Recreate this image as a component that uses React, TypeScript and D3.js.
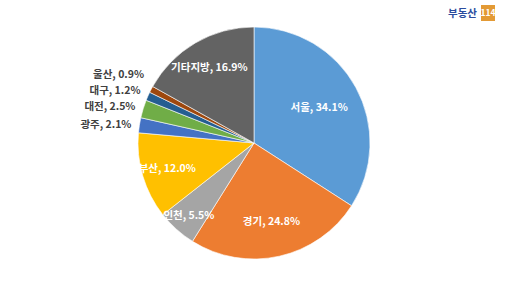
import React from "react";
import * as d3 from "d3";

const regions = ["서울", "경기", "인천", "부산", "광주", "대전", "대구", "울산", "기타지방"];
const shares = [34.1, 24.8, 5.5, 12.0, 2.1, 2.5, 1.2, 0.9, 16.9];
const colors = ["#5B9BD5", "#ED7D31", "#A5A5A5", "#FFC000", "#4472C4", "#70AD47", "#255E91", "#9E480E", "#636363"];
// label placement: inside fraction of radius, or 0 for outside
const labelInside = [0.64, 0.69, 0.84, 0.78, 0, 0, 0, 0, 0.76];

const W = 510, H = 288;
const cx = 254, cy = 143, R = 116;
const FONT = "'Malgun Gothic', 'Noto Sans CJK KR', sans-serif";

export default function App() {
  const pie = d3.pie<number>().sort(null).value((d) => d)(shares);
  const arc = d3.arc<d3.PieArcDatum<number>>().innerRadius(0).outerRadius(R);

  // outside labels, resolve overlaps going upward
  const outside: { i: number; x: number; y: number }[] = [];
  pie.forEach((p, i) => {
    if (labelInside[i] === 0) {
      const a = (p.startAngle + p.endAngle) / 2;
      const rr = R + 8;
      outside.push({ i, x: rr * Math.sin(a), y: -rr * Math.cos(a) });
    }
  });
  outside.sort((a, b) => b.y - a.y);
  for (let k = 1; k < outside.length; k++) {
    if (outside[k - 1].y - outside[k].y < 16) outside[k].y = outside[k - 1].y - 16;
  }

  return (
    <svg width={W} height={H} style={{ position: "absolute", left: 0, top: 0, background: "#fff" }}>
      <rect width={W} height={H} fill="#fff" />
      <g transform={`translate(${cx},${cy})`}>
        {pie.map((p, i) => (
          <path key={i} d={arc(p) || ""} fill={colors[i]} stroke="#fff" strokeWidth={0.6} />
        ))}
        {pie.map((p, i) => {
          if (labelInside[i] === 0) return null;
          const a = (p.startAngle + p.endAngle) / 2;
          const rr = R * labelInside[i];
          return (
            <text key={"l" + i} x={rr * Math.sin(a)} y={-rr * Math.cos(a)} dy="0.35em" textAnchor="middle"
              fontFamily={FONT} fontSize={10.5} fontWeight="bold" fill="#fff">
              {`${regions[i]}, ${shares[i].toFixed(1)}%`}
            </text>
          );
        })}
        {outside.map((o) => (
          <text key={"o" + o.i} x={o.x} y={o.y} dy="0.35em" textAnchor="end"
            fontFamily={FONT} fontSize={10.5} fontWeight="bold" fill="#404040">
            {`${regions[o.i]}, ${shares[o.i].toFixed(1)}%`}
          </text>
        ))}
      </g>
      <g>
        <text x={448} y={13} dy="0.35em" fontFamily={FONT} fontSize={10.5} fontWeight="bold" fill="#2B4C9E">부동산</text>
        <rect x={481} y={5} width={14} height={16} fill="#E39A35" />
        <text x={488} y={13} dy="0.35em" textAnchor="middle" fontFamily={FONT} fontSize={8.5} fontWeight="bold" fill="#fff">114</text>
      </g>
    </svg>
  );
}
